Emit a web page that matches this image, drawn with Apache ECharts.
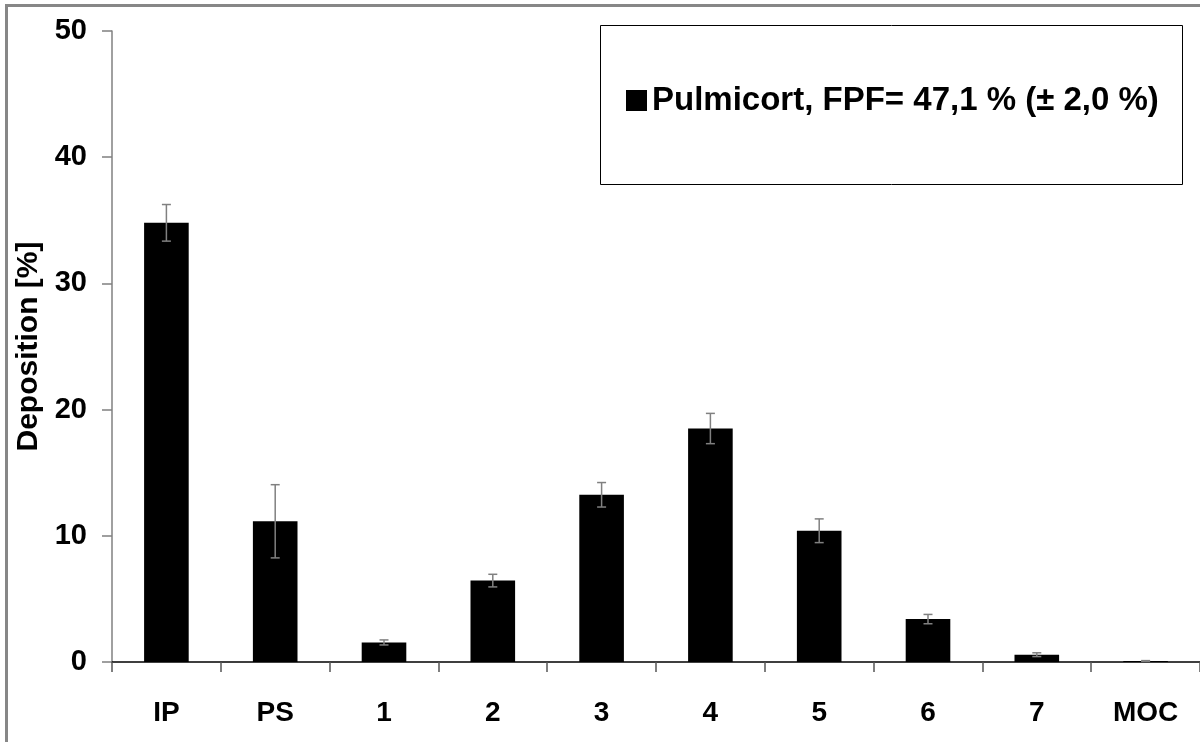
<!DOCTYPE html>
<html>
<head>
<meta charset="utf-8">
<script src="https://cdn.jsdelivr.net/npm/echarts@6/dist/echarts.min.js"></script>
<style>
html,body{margin:0;padding:0;background:#fff;}
#chart{width:1200px;height:742px;}
</style>
</head>
<body>
<div id="chart"></div>
<script>
const categories = ['IP', 'PS', '1', '2', '3', '4', '5', '6', '7', 'MOC'];
const deposition = [34.8, 11.15, 1.55, 6.45, 13.25, 18.5, 10.4, 3.4, 0.58, 0.08];
const errors = [1.45, 2.9, 0.2, 0.5, 0.97, 1.2, 0.94, 0.37, 0.15, 0.03];
const seriesName = 'Pulmicort, FPF= 47,1 % (± 2,0 %)';
const yTicks = { min: 0, max: 50, interval: 10 };

const FONT = '"Liberation Sans", Arial, sans-serif';
const chart = echarts.init(document.getElementById('chart'), null, { renderer: 'canvas' });

const errData = deposition.map((v, i) => [i, v - errors[i], v + errors[i]]);

chart.setOption({
  animation: false,
  backgroundColor: '#ffffff',
  graphic: [
    { type: 'rect', z: 100, silent: true,
      shape: { x: 6.5, y: 5.5, width: 1300, height: 900 },
      style: { fill: 'none', stroke: '#878787', lineWidth: 3 } },
    { type: 'rect', z: 1, silent: true,
      shape: { x: 600.5, y: 25.5, width: 582, height: 159 },
      style: { fill: '#ffffff', stroke: '#000000', lineWidth: 1 } }
  ],
  grid: { left: 112, right: -4, top: 31, bottom: 80, containLabel: false },
  legend: {
    data: [{ name: seriesName, icon: 'rect' }],
    left: 626, top: 84,
    itemWidth: 21, itemHeight: 21, itemGap: 5,
    padding: 0,
    selectedMode: false,
    z: 10,
    textStyle: { fontFamily: FONT, fontWeight: 'bold', fontSize: 33, color: '#000', padding: [0, 0, 0, 0] }
  },
  xAxis: {
    type: 'category',
    data: categories,
    boundaryGap: true,
    axisLine: { show: true, lineStyle: { color: '#000000', width: 1.5 } },
    axisTick: { show: true, alignWithLabel: false, length: 10, lineStyle: { color: '#555555', width: 1.5 } },
    axisLabel: { fontFamily: FONT, fontWeight: 'bold', fontSize: 28, color: '#000', margin: 37 },
    splitLine: { show: false }
  },
  yAxis: {
    type: 'value',
    min: yTicks.min, max: yTicks.max, interval: yTicks.interval,
    name: 'Deposition [%]',
    nameLocation: 'middle',
    nameGap: 55,
    nameRotate: 90,
    nameTextStyle: { fontFamily: FONT, fontWeight: 'bold', fontSize: 30, color: '#000' },
    axisLine: { show: true, lineStyle: { color: '#808080', width: 1.5 } },
    axisTick: { show: true, inside: false, length: 10, lineStyle: { color: '#808080', width: 1.5 } },
    axisLabel: { fontFamily: FONT, fontWeight: 'bold', fontSize: 29, color: '#000', margin: 25 },
    splitLine: { show: false }
  },
  series: [
    {
      name: seriesName,
      type: 'bar',
      data: deposition,
      barWidth: '41%',
      itemStyle: { color: '#000000' },
      z: 2
    },
    {
      name: 'err',
      type: 'custom',
      data: errData,
      z: 5,
      renderItem: function (params, api) {
        const x = api.value(0);
        const lo = api.coord([x, api.value(1)]);
        const hi = api.coord([x, api.value(2)]);
        const cap = 4.5;
        const style = { stroke: '#808080', lineWidth: 1.5 };
        return {
          type: 'group',
          children: [
            { type: 'line', shape: { x1: hi[0], y1: hi[1], x2: lo[0], y2: lo[1] }, style: style },
            { type: 'line', shape: { x1: hi[0] - cap, y1: hi[1], x2: hi[0] + cap, y2: hi[1] }, style: style },
            { type: 'line', shape: { x1: lo[0] - cap, y1: lo[1], x2: lo[0] + cap, y2: lo[1] }, style: style }
          ]
        };
      }
    }
  ]
});
</script>
</body>
</html>
